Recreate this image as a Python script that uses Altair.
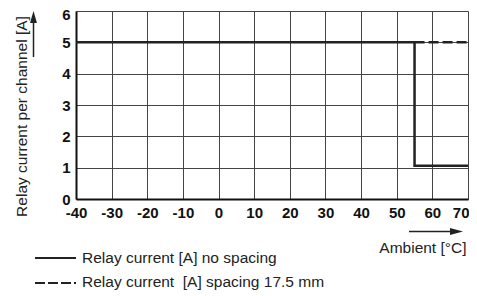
import altair as alt
import pandas as pd

# ---- data ----
temp_no_spacing = [-40, 55, 55, 70]
current_no_spacing = [5, 5, 1.06, 1.06]
temp_spacing = [55, 70]
current_spacing = [5, 5]
x_ticks = [-40, -30, -20, -10, 0, 10, 20, 30, 40, 50, 60, 70]
y_ticks = [0, 1, 2, 3, 4, 5, 6]
series = ["Relay current [A] no spacing", "Relay current\u00a0 [A] spacing 17.5 mm"]
x_title = "Ambient [°C]"
y_title = "Relay current per channel [A]"

FONT = "Liberation Sans"
INK = "#222222"

df_solid = pd.DataFrame({"t": temp_no_spacing, "i": current_no_spacing,
                         "o": list(range(len(temp_no_spacing)))})
df_dash = pd.DataFrame({"t": temp_spacing, "i": current_spacing,
                        "o": list(range(len(temp_spacing)))})

x_scale = alt.Scale(domain=[x_ticks[0], x_ticks[-1]], nice=False, zero=False)
y_scale = alt.Scale(domain=[y_ticks[0], y_ticks[-1]], nice=False)

last_x = x_ticks[-1]
top_y = y_ticks[-1]

x_axis = alt.Axis(values=x_ticks, title=x_title, grid=True, ticks=False,
                  labelExpr="'' + datum.value", labelOverlap=False, labelFlush=False,
                  labelAlign={"condition": {"test": f"datum.value == {last_x}", "value": "right"},
                              "value": "center"},
                  labelOffset={"condition": {"test": f"datum.value == {last_x}", "value": 1},
                               "value": 0},
                  labelPadding=6, labelFontSize=15, labelFontWeight="bold",
                  labelColor="#111", labelFont=FONT,
                  domainColor="#111", domainWidth=2,
                  gridColor="#444", gridWidth=1,
                  titleFont=FONT, titleFontSize=15.5, titleFontWeight="normal",
                  titleColor=INK, titleX=390, titleY=53, titleAlign="right",
                  titleBaseline="alphabetic", titleAngle=0)
y_axis = alt.Axis(values=y_ticks, title=y_title, grid=True, ticks=False,
                  labelExpr="'' + datum.value", labelOverlap=False, labelFlush=False,
                  labelOffset={"condition": {"test": f"datum.value == {top_y}", "value": 3},
                               "value": 0},
                  labelPadding=6, labelFontSize=15, labelFontWeight="bold",
                  labelColor="#111", labelFont=FONT, labelBaseline="middle",
                  domainColor="#111", domainWidth=2,
                  gridColor="#444", gridWidth=1,
                  titleFont=FONT, titleFontSize=15.5, titleFontWeight="normal",
                  titleColor=INK, titleX=-55, titleY=105, titleAngle=270,
                  titleAlign="center", titleBaseline="middle")

solid = alt.Chart(df_solid).mark_line(color=INK, strokeWidth=2.5, strokeJoin="miter").encode(
    x=alt.X("t:Q", scale=x_scale, axis=x_axis),
    y=alt.Y("i:Q", scale=y_scale, axis=y_axis),
    order="o:O",
)
dashed = alt.Chart(df_dash).mark_line(color=INK, strokeWidth=2.5, strokeDash=[10, 4]).encode(
    x=alt.X("t:Q", scale=x_scale, axis=x_axis),
    y=alt.Y("i:Q", scale=y_scale, axis=y_axis),
    order="o:O",
)

one = alt.Data(values=[{}])

# axis arrows
y_arrow = alt.Chart(one).mark_rule(color=INK, strokeWidth=1.5).encode(
    x=alt.value(-42.5), y=alt.value(12), y2=alt.value(46))
y_head = alt.Chart(one).mark_point(shape="M0,-1L0.58,1L-0.58,1Z", filled=True,
                                   size=144, color=INK, opacity=1).encode(
    x=alt.value(-42.5), y=alt.value(6))
x_arrow = alt.Chart(one).mark_rule(color=INK, strokeWidth=1.5).encode(
    x=alt.value(333), x2=alt.value(376), y=alt.value(220.5))
x_head = alt.Chart(one).mark_point(shape="M1,0L-1,-0.55L-1,0.55Z", filled=True,
                                   size=169, color=INK, opacity=1).encode(
    x=alt.value(380.5), y=alt.value(220.5))

# legend
leg1_line = alt.Chart(one).mark_rule(color=INK, strokeWidth=2.2).encode(
    x=alt.value(-41), x2=alt.value(0), y=alt.value(247))
leg2_line = alt.Chart(one).mark_rule(color=INK, strokeWidth=2.2, strokeDash=[10, 3]).encode(
    x=alt.value(-41), x2=alt.value(0), y=alt.value(272))
leg1_text = alt.Chart(one).mark_text(align="left", baseline="middle", font=FONT,
                                     fontSize=15.5, color=INK).encode(
    x=alt.value(6), y=alt.value(247), text=alt.value(series[0]))
leg2_text = alt.Chart(one).mark_text(align="left", baseline="middle", font=FONT,
                                     fontSize=15.5, color=INK).encode(
    x=alt.value(6), y=alt.value(271), text=alt.value(series[1]))

chart = alt.layer(
    solid, dashed, y_arrow, y_head, x_arrow, x_head,
    leg1_line, leg2_line, leg1_text, leg2_text,
).properties(
    width=392, height=188,
    autosize=alt.AutoSizeParams(type="none"),
    padding={"left": 68, "top": 3, "right": 1, "bottom": 93},
).configure_view(
    stroke="#555", strokeWidth=1
).configure(background="white")

chart.save("out.html", embed_options={"renderer": "svg", "actions": False})
